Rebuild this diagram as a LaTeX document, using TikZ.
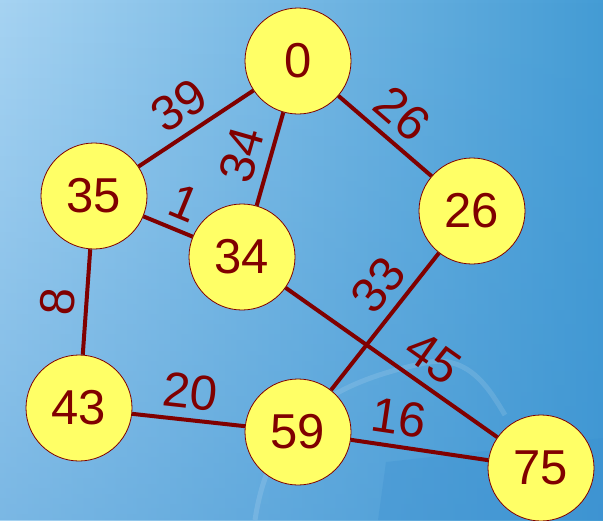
\documentclass[tikz,border=0pt]{standalone}
\usepackage{fontspec}
\setmainfont{Liberation Sans}
\usepackage{tikz}
\usetikzlibrary{arrows.meta,positioning,fadings}
\definecolor{GraphRed}{HTML}{800000}
\definecolor{GraphYellow}{HTML}{FFFF66}
\definecolor{BgLight}{HTML}{A6D3F2}
\definecolor{BgDark}{HTML}{449CD5}
\definecolor{BgDeep}{HTML}{3A8FD0}
\tikzset{
  g/vertex/.style={circle, draw=GraphRed, line width=0.8pt, fill=GraphYellow, text=GraphRed,
    minimum size=106pt, inner sep=0pt, font=\fontsize{49}{50}\selectfont},
  g/edge/.style={draw=GraphRed, line width=4pt},
  g/weight/.style={sloped, above=7pt, inner sep=2pt, text=GraphRed, font=\fontsize{49}{50}\selectfont},
  g/swoosh/.style={white, opacity=0.12, line width=5pt}
}

\begin{document}
\begin{tikzpicture}[x=1pt, y=-1pt]
\useasboundingbox (0,0) rectangle (603,520);
\shade[left color=BgLight, right color=BgDark] (0,0) rectangle (603,520);
\fill[BgDeep, opacity=0.4, path fading=north] (0,0) rectangle (603,520);
\fill[BgDeep, opacity=0.3] (378,520) -- (386,462) -- (603,438) -- (603,520) -- cycle;
\draw[g/swoosh] (255,520) .. controls (270,420) and (330,382) .. (430,362) .. controls (470,356) and (490,390) .. (505,415);
\node[g/vertex] (v0) at (298,61) {0};
\node[g/vertex] (v35) at (94,196) {35};
\node[g/vertex] (v34) at (242,257) {34};
\node[g/vertex] (v26) at (472,211) {26};
\node[g/vertex] (v43) at (79,408) {43};
\node[g/vertex] (v59) at (298,432) {59};
\node[g/vertex] (v75) at (541,468) {75};
\draw[g/edge] (v35) -- node[g/weight, pos=0.49] (w39) {39} (v0);
\draw[g/edge] (v34) -- node[g/weight, pos=0.46] (w34) {34} (v0);
\draw[g/edge] (v0) -- node[g/weight, pos=0.49] (w26) {26} (v26);
\draw[g/edge] (v35) -- node[g/weight, pos=0.62] (w1) {1} (v34);
\draw[g/edge] (v43) -- node[g/weight, pos=0.48] (w8) {8} (v35);
\draw[g/edge] (v43) -- node[g/weight, pos=0.49] (w20) {20} (v59);
\draw[g/edge] (v59) -- node[g/weight, pos=0.32] (w16) {16} (v75);
\draw[g/edge] (v59) -- node[g/weight, pos=0.64] (w33) {33} (v26);
\draw[g/edge] (v34) -- node[g/weight, pos=0.62] (w45) {45} (v75);
\end{tikzpicture}
\end{document}
